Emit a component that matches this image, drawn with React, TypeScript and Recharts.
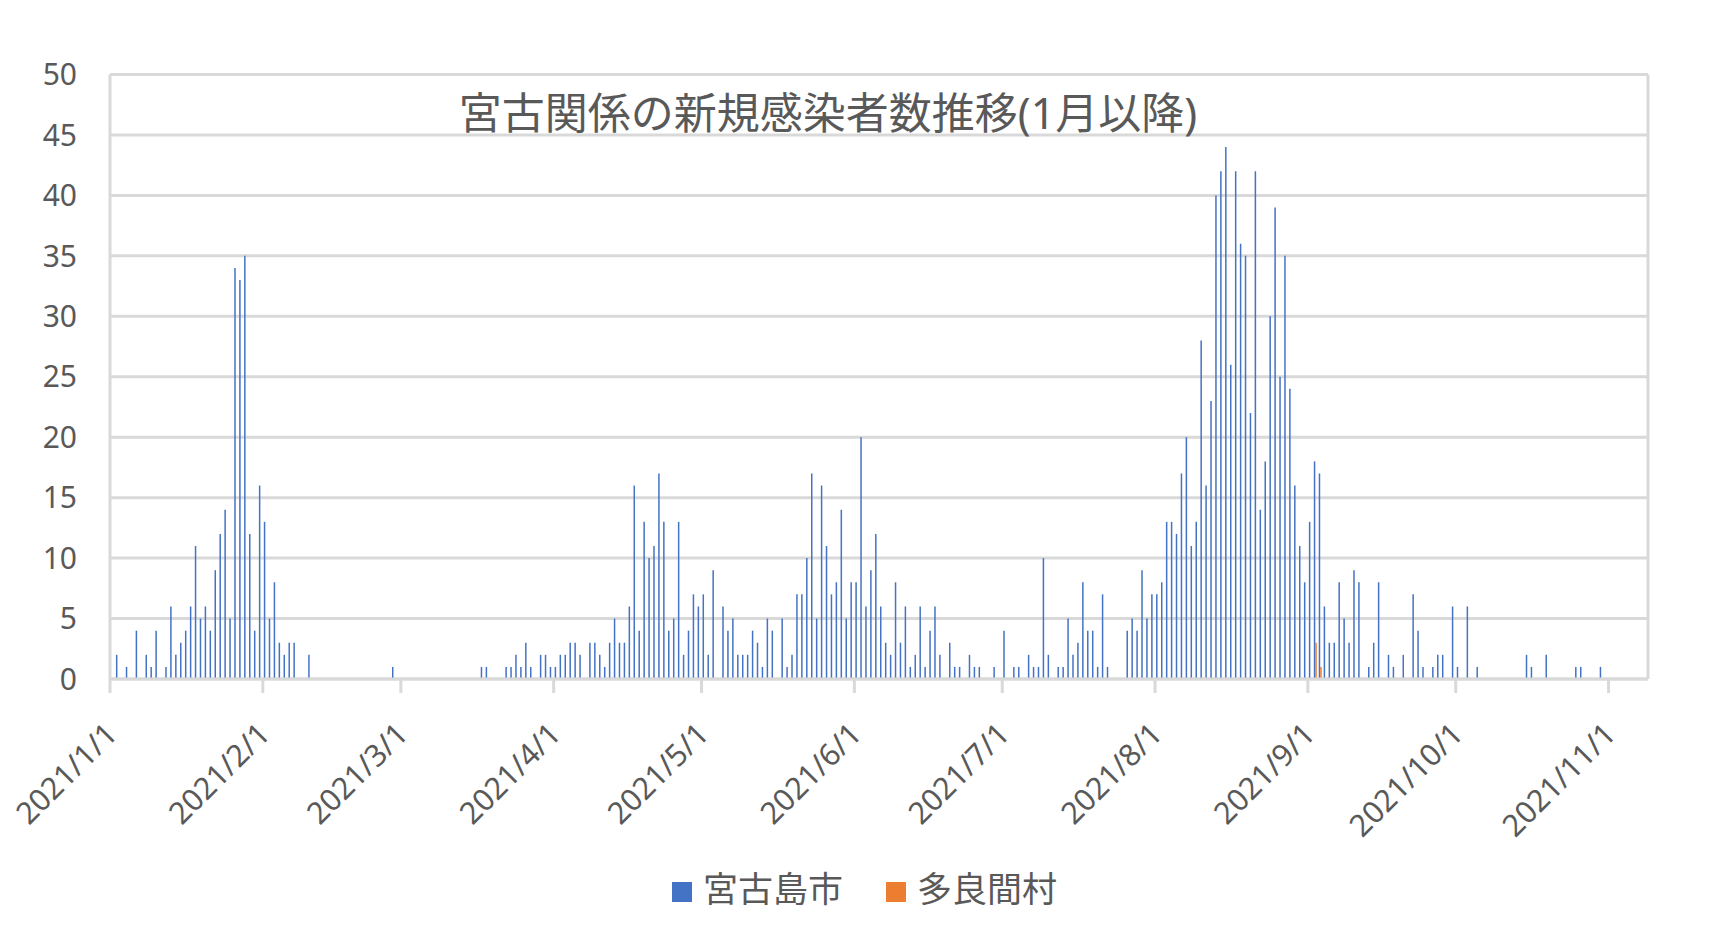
import React from "react";
import {
  BarChart,
  Bar,
  XAxis,
  YAxis,
  CartesianGrid,
  ReferenceLine,
} from "recharts";

// 宮古島市: daily new cases, one array per month (index 0 = the 1st)
const jan = [0, 2, 0, 1, 0, 4, 0, 2, 1, 4, 0, 1, 6, 2, 3, 4, 6, 11, 5, 6, 4, 9, 12, 14, 5, 34, 33, 35, 12, 4, 16];
const feb = [13, 5, 8, 3, 2, 3, 3, 0, 0, 2, 0, 0, 0, 0, 0, 0, 0, 0, 0, 0, 0, 0, 0, 0, 0, 0, 1, 0];
const mar = [0, 0, 0, 0, 0, 0, 0, 0, 0, 0, 0, 0, 0, 0, 0, 0, 1, 1, 0, 0, 0, 1, 1, 2, 1, 3, 1, 0, 2, 2, 1];
const apr = [1, 2, 2, 3, 3, 2, 0, 3, 3, 2, 1, 3, 5, 3, 3, 6, 16, 4, 13, 10, 11, 17, 13, 4, 5, 13, 2, 4, 7, 6];
const may = [7, 2, 9, 0, 6, 4, 5, 2, 2, 2, 4, 3, 1, 5, 4, 0, 5, 1, 2, 7, 7, 10, 17, 5, 16, 11, 7, 8, 14, 5, 8];
const jun = [8, 20, 6, 9, 12, 6, 3, 2, 8, 3, 6, 1, 2, 6, 1, 4, 6, 2, 0, 3, 1, 1, 0, 2, 1, 1, 0, 0, 1, 0];
const jul = [4, 0, 1, 1, 0, 2, 1, 1, 10, 2, 0, 1, 1, 5, 2, 3, 8, 4, 4, 1, 7, 1, 0, 0, 0, 4, 5, 4, 9, 5, 7];
const aug = [7, 8, 13, 13, 12, 17, 20, 11, 13, 28, 16, 23, 40, 42, 44, 26, 42, 36, 35, 22, 42, 14, 18, 30, 39, 25, 35, 24, 16, 11, 8];
const sep = [13, 18, 17, 6, 3, 3, 8, 5, 3, 9, 8, 0, 1, 3, 8, 0, 2, 1, 0, 2, 0, 7, 4, 1, 0, 1, 2, 2, 0, 6];
const oct = [1, 0, 6, 0, 1, 0, 0, 0, 0, 0, 0, 0, 0, 0, 2, 1, 0, 0, 2, 0, 0, 0, 0, 0, 1, 1, 0, 0, 0, 1, 0];
const miyakoByMonth = [jan, feb, mar, apr, may, jun, jul, aug, sep, oct];

// 多良間村
const taramaDates = ["2021/9/2", "2021/9/3"];
const taramaValues = [3, 1];

const monthTicks = [
  "2021/1/1", "2021/2/1", "2021/3/1", "2021/4/1", "2021/5/1", "2021/6/1",
  "2021/7/1", "2021/8/1", "2021/9/1", "2021/10/1", "2021/11/1",
];
const axisEnd = "2021/11/9";
const yTicks = [0, 5, 10, 15, 20, 25, 30, 35, 40, 45, 50];

const TITLE = "宮古関係の新規感染者数推移(1月以降)";
const FONT = '"Noto Sans", "Noto Sans CJK JP", sans-serif';
const TEXT = "#595959";
const GRID = "#d9d9d9";
const BLUE = "#4472C4";
const ORANGE = "#ED7D31";

const dayIndex = (s: string) => {
  const [y, m, d] = s.split("/").map(Number);
  return Math.round((Date.UTC(y, m - 1, d) - Date.UTC(2021, 0, 1)) / 86400000);
};

const taramaByDay = new Map(taramaDates.map((d, i) => [dayIndex(d), taramaValues[i]]));
const data = miyakoByMonth.flat().map((v, i) => ({
  day: i + 0.5,
  miyako: v,
  tarama: taramaByDay.get(i) ?? 0,
}));

const tickLabel = new Map(monthTicks.map((t) => [dayIndex(t), t]));

const DateTick = (props: any) => {
  const { x, y, payload } = props;
  return (
    <g transform={`translate(${x},${y})`}>
      <text
        x={9}
        y={41}
        transform="rotate(-45 9 41)"
        textAnchor="end"
        fill={TEXT}
        fontSize={30.5}
        fontFamily={FONT}
      >
        {tickLabel.get(payload.value)}
      </text>
    </g>
  );
};

export default function App() {
  return (
    <div
      style={{
        position: "absolute",
        left: 0,
        top: 0,
        width: 1717,
        height: 928,
        background: "#fff",
        fontFamily: FONT,
      }}
    >
      <BarChart
        width={1717}
        height={928}
        data={data}
        barGap={0}
        margin={{ top: 74.5, right: 69, bottom: 0, left: 0 }}
      >
        <CartesianGrid vertical={false} stroke={GRID} strokeWidth={3} />
        <XAxis
          dataKey="day"
          type="number"
          domain={[0, dayIndex(axisEnd)]}
          ticks={monthTicks.map(dayIndex)}
          interval={0}
          height={249}
          tickSize={14}
          axisLine={{ stroke: GRID, strokeWidth: 3 }}
          tickLine={{ stroke: GRID, strokeWidth: 3 }}
          tick={<DateTick />}
        />
        <YAxis
          domain={[0, 50]}
          ticks={yTicks}
          interval={0}
          width={110}
          axisLine={false}
          tickLine={false}
          tickSize={0}
          tickMargin={33}
          tick={{ fill: TEXT, fontSize: 30, fontFamily: FONT }}
        />
        <ReferenceLine x={0} stroke={GRID} strokeWidth={3} />
        <ReferenceLine x={dayIndex(axisEnd)} stroke={GRID} strokeWidth={3} />
        <Bar dataKey="miyako" name="宮古島市" fill={BLUE} barSize={1.5} isAnimationActive={false} />
        <Bar dataKey="tarama" name="多良間村" fill={ORANGE} barSize={1.5} isAnimationActive={false} />
      </BarChart>

      <div
        style={{
          position: "absolute",
          left: 428,
          width: 800,
          top: 91,
          textAlign: "center",
          fontSize: 43,
          lineHeight: "43px",
          color: TEXT,
          whiteSpace: "nowrap",
        }}
      >
        {TITLE}
      </div>

      <div
        style={{
          position: "absolute",
          left: 672,
          top: 874,
          height: 35,
          display: "flex",
          alignItems: "center",
          fontSize: 35,
          lineHeight: "35px",
          color: TEXT,
        }}
      >
        {[
          { label: "宮古島市", color: BLUE },
          { label: "多良間村", color: ORANGE },
        ].map((item, i) => (
          <div key={item.label} style={{ display: "flex", alignItems: "center", marginLeft: i ? 43 : 0 }}>
            <span style={{ width: 20, height: 20, background: item.color, marginRight: 11 }} />
            <span style={{ position: "relative", top: -3 }}>{item.label}</span>
          </div>
        ))}
      </div>
    </div>
  );
}
